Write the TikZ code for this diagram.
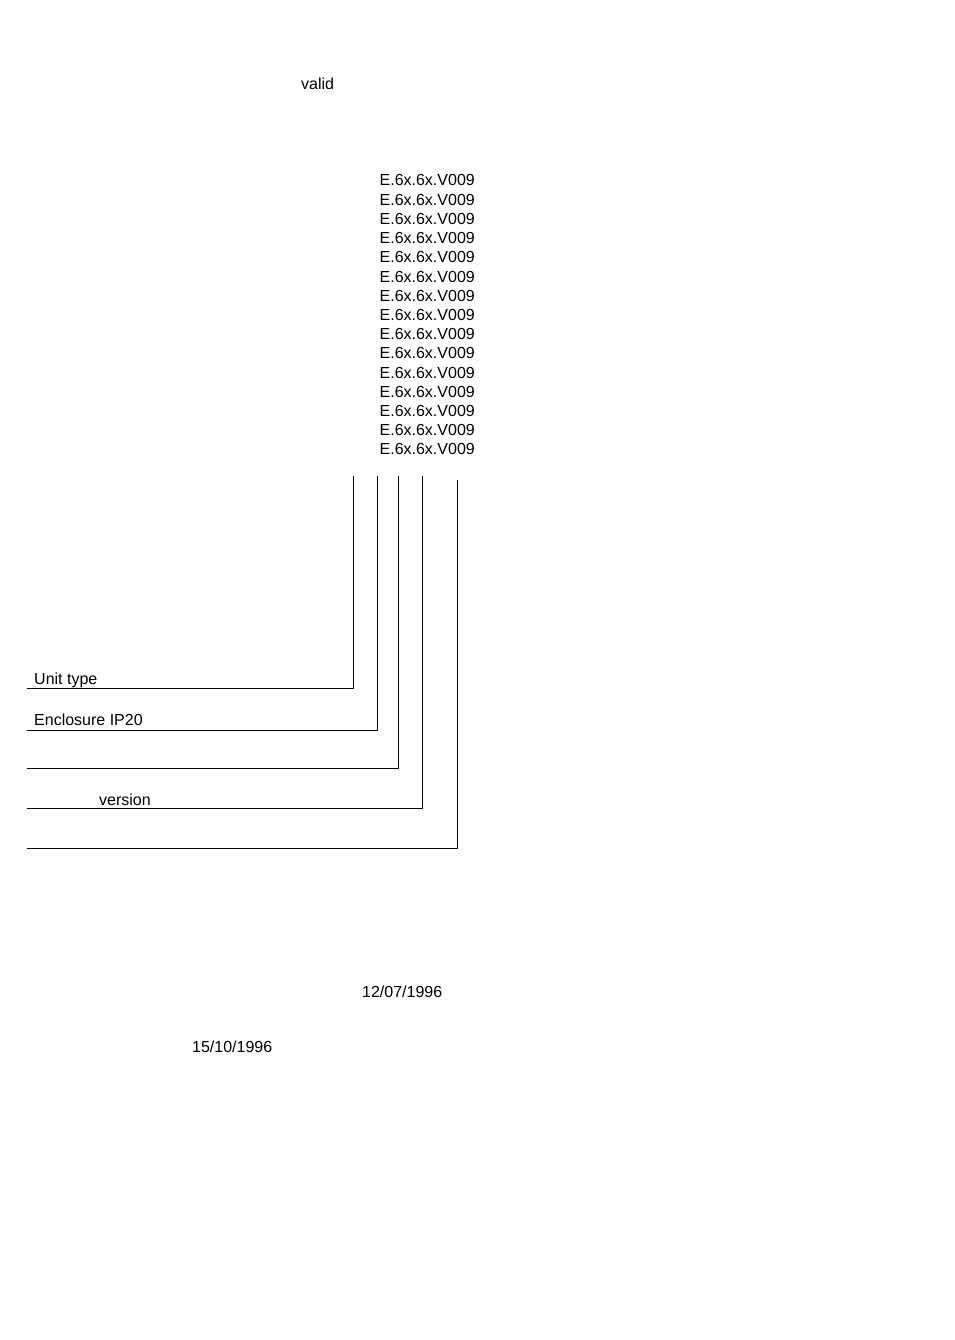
\documentclass[tikz,border=0pt]{standalone}
\usepackage{fontspec}
\setmainfont{Liberation Sans}
\usepackage{tikz}

\begin{document}
\begin{tikzpicture}[x = 1pt, y = -1pt, font = \fontsize{16}{19}\selectfont,
        lbl/.style = {inner sep = 0pt, anchor = base west},
        lead/.style = {line width = 1pt}]
        \useasboundingbox (0,0) rectangle (954,1340);

        \node [lbl] (valid) at (301,90) {valid};

        \foreach \i in {0,...,14}
            \node [inner sep = 0pt, anchor = base east] (code\i) at (475,186+19.2*\i) {E.6x.6x.V009};

        % leader lines
        \coordinate (t1) at (353,476); \coordinate (c1) at (353,688); \coordinate (e1) at (27,688);
        \coordinate (t2) at (377,476); \coordinate (c2) at (377,730); \coordinate (e2) at (27,730);
        \coordinate (t3) at (398,476); \coordinate (c3) at (398,768); \coordinate (e3) at (27,768);
        \coordinate (t4) at (422,476); \coordinate (c4) at (422,808); \coordinate (e4) at (27,808);
        \coordinate (t5) at (457,480); \coordinate (c5) at (457,848); \coordinate (e5) at (27,848);

        \draw [lead] (t1) -- (c1) -- (e1);
        \draw [lead] (t2) -- (c2) -- (e2);
        \draw [lead] (t3) -- (c3) -- (e3);
        \draw [lead] (t4) -- (c4) -- (e4);
        \draw [lead] (t5) -- (c5) -- (e5);

        \node [lbl] (unit) at (34,684) {Unit type};
        \node [lbl] (encl) at (34,725) {Enclosure IP20};
        \node [lbl] (vers) at (99,805) {version};

        \node [lbl] (date1) at (362,997) {12/07/1996};
        \node [lbl] (date2) at (192,1052) {15/10/1996};
    \end{tikzpicture}
\end{document}
